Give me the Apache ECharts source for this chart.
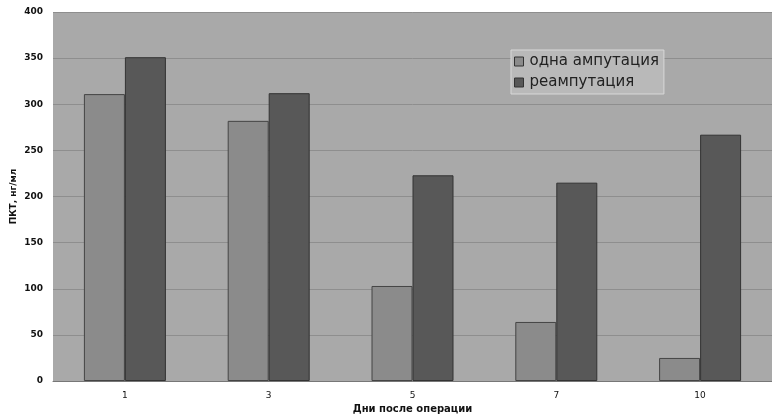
<!DOCTYPE html>
<html><head><meta charset="utf-8">
<script src="https://cdn.jsdelivr.net/npm/echarts@6/dist/echarts.min.js"></script>
<style>html,body{margin:0;padding:0;background:#fff}#c{width:772px;height:419px}</style>
</head><body><div id="c"></div>
<script>
const categories = ['1', '3', '5', '7', '10'];
const oneAmputation = [311, 282, 103, 64, 25];
const reamputation = [351, 312, 223, 215, 267];
const seriesNames = ['одна ампутация', 'реампутация'];

const chart = echarts.init(document.getElementById('c'));
chart.setOption({
  animation: false,
  backgroundColor: '#fff',
  grid: { left: 53, right: 0, top: 12, bottom: 38, outerBoundsMode: 'none', containLabel: false,
          show: true, backgroundColor: '#a9a9a9', borderWidth: 0 },
  legend: {
    orient: 'vertical', left: 511, top: 50,
    itemWidth: 9, itemHeight: 9, itemGap: 6,
    backgroundColor: '#b9b9b9', borderColor: '#d8d8d8', borderWidth: 1, padding: [4, 5, 4, 3],
    textStyle: { fontFamily: 'DejaVu Sans', fontSize: 15, color: '#222', padding: [0, 0, 0, 1] },
    data: seriesNames.map(n => ({ name: n, icon: 'rect', itemStyle: { borderColor: '#333', borderWidth: 1 } }))
  },
  xAxis: {
    type: 'category', data: categories,
    name: 'Дни после операции', nameLocation: 'middle', nameGap: 23, nameMoveOverlap: false,
    nameTextStyle: { fontFamily: 'DejaVu Sans', fontWeight: 'bold', fontSize: 10, color: '#111' },
    axisLine: { lineStyle: { color: '#777' } },
    axisTick: { show: false },
    axisLabel: { fontFamily: 'DejaVu Sans', fontSize: 9, color: '#111', margin: 10 }
  },
  yAxis: {
    type: 'value', min: 0, max: 400, interval: 50,
    name: 'ПКТ, нг/мл', nameLocation: 'middle', nameGap: 35, nameRotate: 90, nameMoveOverlap: false,
    nameTextStyle: { fontFamily: 'DejaVu Sans', fontWeight: 'bold', fontSize: 9, color: '#111' },
    axisLine: { show: false },
    axisTick: { show: false },
    axisLabel: { fontFamily: 'DejaVu Sans', fontSize: 9, fontWeight: 'bold', color: '#111', margin: 10 },
    splitLine: { lineStyle: { color: '#8e8e8e', width: 1 } }
  },
  series: [
    { name: seriesNames[0], type: 'bar', data: oneAmputation, barWidth: 41, barGap: '0%',
      itemStyle: { color: '#8b8b8b', borderColor: '#444', borderWidth: 1 } },
    { name: seriesNames[1], type: 'bar', data: reamputation, barWidth: 41, barGap: '0%',
      itemStyle: { color: '#585858', borderColor: '#333', borderWidth: 1 } }
  ]
});
</script></body></html>
